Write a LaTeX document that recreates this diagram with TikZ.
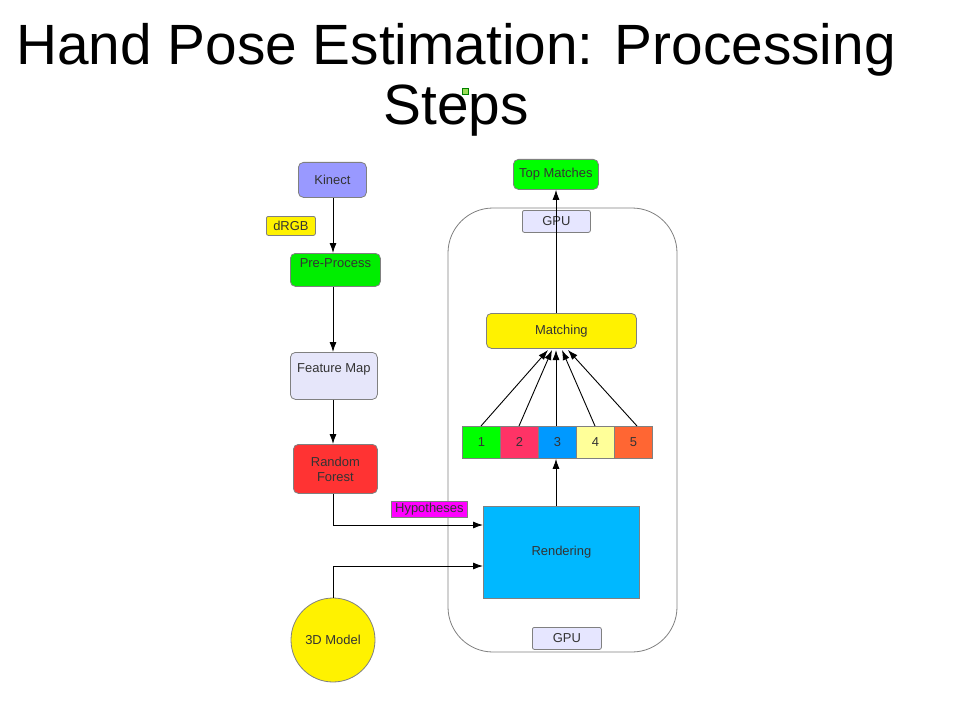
\documentclass[tikz,border=0pt]{standalone}
\usepackage{fontspec}
\setmainfont{Liberation Sans}
\usetikzlibrary{arrows.meta}
\definecolor{txt}{HTML}{333333}
\definecolor{edge}{HTML}{808080}
\tikzset{
  box/.style={draw=edge, line width=0.8bp, rounded corners=5bp, inner sep=0pt, anchor=north west, font=\fontsize{13}{15}\selectfont, text=txt},
  lbl/.style={draw=edge, line width=0.8bp, rounded corners=2bp, inner sep=0pt, anchor=north west, font=\fontsize{13}{15}\selectfont, text=txt},
  cell/.style={draw=edge, line width=0.8bp, inner sep=0pt, minimum width=38bp, minimum height=32bp, anchor=north west, font=\fontsize{13}{15}\selectfont, text=txt},
  conn/.style={line width=0.9bp, -{Latex[length=10bp,width=7bp]}},
}
\begin{document}
\begin{tikzpicture}[x=1bp,y=-1bp]
\useasboundingbox (0,0) rectangle (953,703);
\fill[white] (0,0) rectangle (953,703);
% title
\node[font=\fontsize{57}{60}\selectfont, anchor=base] (t1) at (456,65) {Hand Pose Estimation: Processing};
\node[font=\fontsize{57}{60}\selectfont, anchor=base] (t2) at (456,125) {Steps};
\node[draw=green!50!black, fill={rgb,255:red,153;green,221;blue,85}, line width=0.6bp, minimum size=6bp, inner sep=0pt] (hdl) at (465,91) {};
% GPU container
\draw[edge, line width=0.8bp, rounded corners=45bp] (448,208) rectangle (677,652);
\node[lbl, fill={rgb,255:red,230;green,230;blue,255}, minimum width=68bp, minimum height=22bp] (gputop) at (522,210) {GPU};
\node[lbl, fill={rgb,255:red,230;green,230;blue,255}, minimum width=69bp, minimum height=22bp] (gpubot) at (532,627) {GPU};
% left column
\node[box, fill={rgb,255:red,153;green,153;blue,255}, minimum width=68bp, minimum height=35bp] (kinect) at (298,162) {Kinect};
\node[lbl, fill=yellow, minimum width=49bp, minimum height=19bp] (drgb) at (266,216) {dRGB};
\node[box, fill={rgb,255:red,0;green,238;blue,0}, minimum width=90bp, minimum height=33bp, text depth=14bp] (pre) at (290,253) {Pre-Process};
\node[box, fill={rgb,255:red,230;green,230;blue,250}, minimum width=87bp, minimum height=47bp, text depth=15bp] (feat) at (290,352) {Feature Map};
\node[box, fill={rgb,255:red,255;green,51;blue,51}, minimum width=84bp, minimum height=49bp, align=center] (rf) at (293,444) {Random\\Forest};
\node[draw=edge, line width=0.8bp, inner sep=0pt, fill={rgb,255:red,255;green,0;blue,255}, minimum width=76bp, minimum height=16bp, anchor=north west, font=\fontsize{13}{15}\selectfont, text=txt] (hyp) at (391,501) {Hypotheses};
\node[draw=edge, line width=0.8bp, inner sep=0pt, fill={rgb,255:red,0;green,184;blue,255}, minimum width=156bp, minimum height=92bp, anchor=north west, font=\fontsize{13}{15}\selectfont, text=txt] (render) at (483,506) {Rendering};
\node[circle, draw=edge, line width=0.8bp, fill=yellow, minimum size=84bp, inner sep=0pt, font=\fontsize{13}{15}\selectfont, text=txt] (model) at (333,640) {3D Model};
% right column
\node[box, fill={rgb,255:red,0;green,255;blue,0}, minimum width=85bp, minimum height=30bp] (top) at (513,159) {Top Matches};
\node[box, fill=yellow, minimum width=150bp, minimum height=35bp] (match) at (486,313) {Matching};
\node[cell, fill={rgb,255:red,0;green,255;blue,0}] (c1) at (462,426) {1};
\node[cell, fill={rgb,255:red,255;green,51;blue,102}] (c2) at (500,426) {2};
\node[cell, fill={rgb,255:red,0;green,153;blue,255}] (c3) at (538,426) {3};
\node[cell, fill={rgb,255:red,255;green,255;blue,153}] (c4) at (576,426) {4};
\node[cell, fill={rgb,255:red,255;green,102;blue,51}] (c5) at (614,426) {5};
% connectors (left spine at x=333, right spine at x=556)
\coordinate (lx) at (333,0);
\coordinate (rx) at (556,0);
\draw[conn] (lx |- kinect.south) -- (lx |- pre.north);
\draw[conn] (lx |- pre.south) -- (lx |- feat.north);
\draw[conn] (lx |- feat.south) -- (lx |- rf.north);
\draw[conn] (lx |- rf.south) |- (render.west |- 0,525);
\draw[conn] (model.north) |- (render.west |- 0,566);
\draw[conn] (rx |- render.north) -- (rx |- c3.south);
\draw[conn] (rx |- match.north) -- (rx |- top.south);
\coordinate (m1) at (548,350);
\coordinate (m2) at (552,350);
\coordinate (m3) at (556,350);
\coordinate (m4) at (562,350);
\coordinate (m5) at (568,350);
\draw[conn] (481,426) -- (m1);
\draw[conn] (519,426) -- (m2);
\draw[conn] (rx |- c3.north) -- (m3);
\draw[conn] (595,426) -- (m4);
\draw[conn] (637,426) -- (m5);
\end{tikzpicture}
\end{document}
